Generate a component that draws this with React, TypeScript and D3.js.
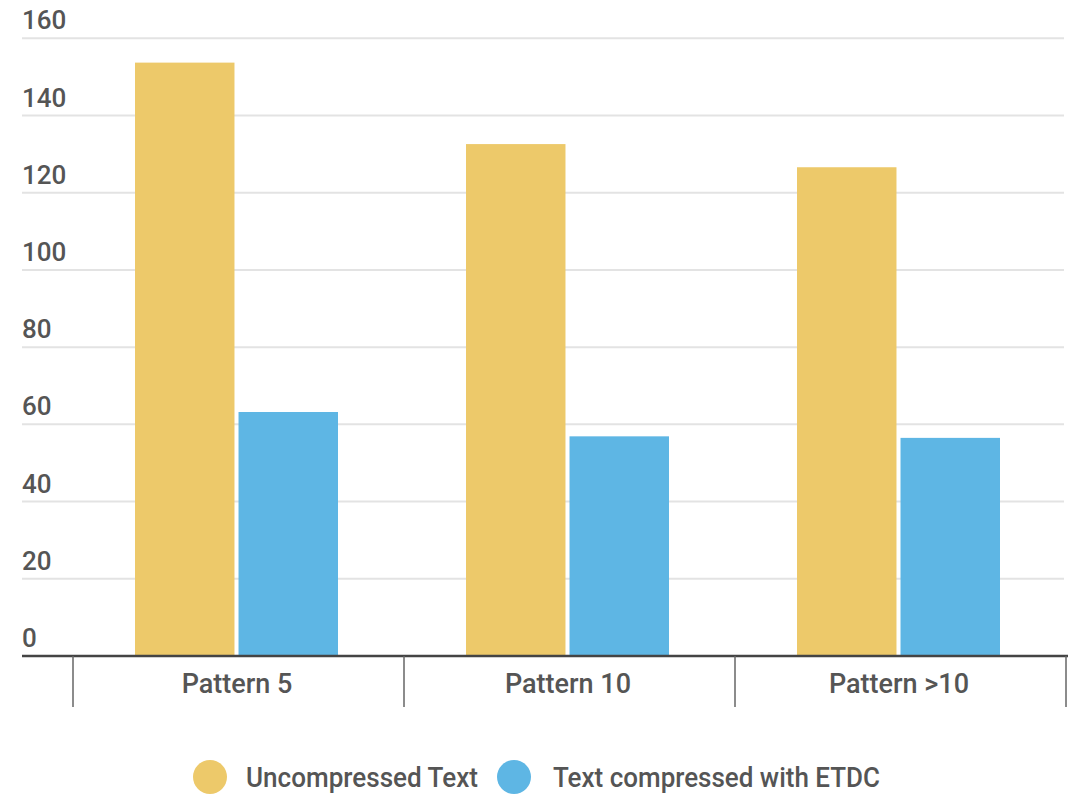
import React from "react";
import * as d3 from "d3";

const categories = ["Pattern 5", "Pattern 10", "Pattern >10"];
const seriesNames = ["Uncompressed Text", "Text compressed with ETDC"];
const uncompressed = [153.7, 132.6, 126.6];
const compressedETDC = [63.2, 56.9, 56.5];
const yTicks = [0, 20, 40, 60, 80, 100, 120, 140, 160];
const colors = ["#EDC96A", "#5EB6E4"];

const W = 1082;
const H = 796;

export default function App() {
  const y = d3.scaleLinear().domain([0, 160]).range([656, 38.3]);
  const x0 = d3.scaleBand<string>().domain(categories).range([73, 1066]).padding(0);
  const x1 = d3
    .scaleBand<string>()
    .domain(seriesNames)
    .range([62, 265])
    .paddingInner(0.039)
    .paddingOuter(0);
  const values = [uncompressed, compressedETDC];
  const font = "Roboto, 'Noto Sans', sans-serif";
  const legendCircleX = [210, 514];
  const legendTextX = [246, 553];
  const legendTextLen = [232, 327];

  return (
    <svg
      width={W}
      height={H}
      style={{ position: "absolute", left: 0, top: 0, display: "block", background: "#fff" }}
    >
      {yTicks.map((t) => (
        <g key={t}>
          {t !== 0 && (
            <line x1={22} x2={1064} y1={y(t)} y2={y(t)} stroke="#e3e3e3" strokeWidth={2} />
          )}
          <text x={22} y={y(t) - 9} fontFamily={font} fontSize={26} fontWeight={500} fill="#555">
            {t}
          </text>
        </g>
      ))}
      {categories.map((c, i) => (
        <g key={c} transform={`translate(${x0(c)},0)`}>
          {seriesNames.map((s, j) => (
            <rect
              key={s}
              x={x1(s)}
              width={x1.bandwidth()}
              y={y(values[j][i])}
              height={y(0) - y(values[j][i])}
              fill={colors[j]}
            />
          ))}
        </g>
      ))}
      <line x1={22} x2={1068} y1={656} y2={656} stroke="#444" strokeWidth={2.5} />
      {[...categories.map((c) => x0(c) as number), 1066].map((xv, i) => (
        <line key={i} x1={xv} x2={xv} y1={656} y2={707} stroke="#666" strokeWidth={1.5} />
      ))}
      {categories.map((c) => (
        <text
          key={c}
          x={(x0(c) as number) + x0.bandwidth() / 2 - 1.5}
          y={693}
          textAnchor="middle"
          fontFamily={font}
          fontSize={27}
          fontWeight={500}
          fill="#555"
        >
          {c}
        </text>
      ))}
      {seriesNames.map((s, j) => (
        <g key={s}>
          <circle cx={legendCircleX[j]} cy={777} r={17} fill={colors[j]} />
          <text
            x={legendTextX[j]}
            y={787}
            fontFamily={font}
            fontSize={27}
            fontWeight={500}
            fill="#555"
            textLength={legendTextLen[j]}
            lengthAdjust="spacingAndGlyphs"
          >
            {s}
          </text>
        </g>
      ))}
    </svg>
  );
}
